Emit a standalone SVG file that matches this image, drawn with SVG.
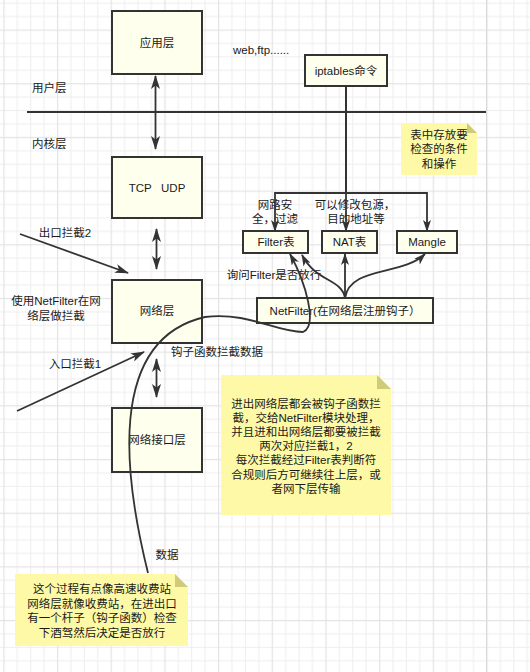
<svg xmlns="http://www.w3.org/2000/svg" width="530" height="672" viewBox="0 0 530 672">
  <defs>
    <!-- background grid: 4 minor cells per major cell -->
    <pattern id="grid" x="3.3" y="29.5" width="53.68" height="53.68" patternUnits="userSpaceOnUse">
      <rect x="0" y="0" width="53.68" height="53.68" fill="#ffffff"/>
      <g fill="#eeeeee">
        <rect x="13.42" y="0" width="1" height="53.68"/>
        <rect x="26.84" y="0" width="1" height="53.68"/>
        <rect x="40.26" y="0" width="1" height="53.68"/>
        <rect x="0" y="13.42" width="53.68" height="1"/>
        <rect x="0" y="26.84" width="53.68" height="1"/>
        <rect x="0" y="40.26" width="53.68" height="1"/>
      </g>
      <g fill="#e4e4e4">
        <rect x="0" y="0" width="1.2" height="53.68"/>
        <rect x="0" y="0" width="53.68" height="1.2"/>
      </g>
    </pattern>
    <marker id="arrow" viewBox="0 0 14 9" refX="13" refY="4.5" markerWidth="14" markerHeight="9" markerUnits="userSpaceOnUse" orient="auto-start-reverse">
      <path d="M0,0 L14,4.5 L0,9 L3.5,4.5 Z" fill="#333333"/>
    </marker>
    <marker id="arrow-s" viewBox="0 0 12 8" refX="11" refY="4" markerWidth="12" markerHeight="8" markerUnits="userSpaceOnUse" orient="auto">
      <path d="M0,0 L12,4 L0,8 L3,4 Z" fill="#333333"/>
    </marker>
  </defs>
  <style>
    text { font-family: "Liberation Sans", "Noto Sans CJK SC", sans-serif; font-size: 11.5px; fill: #1a1a1a; }
    .c { text-anchor: middle; dominant-baseline: central; }
    .l { dominant-baseline: central; }
    .box { fill: #ffffee; stroke: #333333; stroke-width: 2; }
    .note { fill: #fdf9a6; }
    .fold { fill: #cfcb78; }
    .edge { fill: none; stroke: #333333; stroke-width: 1.8; }
    .sep { stroke: #333333; stroke-width: 2.2; }
  </style>

  <rect x="0" y="0" width="530" height="672" fill="url(#grid)"/>
  <rect x="486.2" y="0" width="0.8" height="672" fill="#d4d4d4"/>

  <!-- user space / kernel space separator -->
  <line class="sep" x1="27" y1="112" x2="486" y2="112"/>

  <!-- free text labels -->
  <g id="labels">
    <text class="l" x="233" y="50">web,ftp......</text>
    <text class="l" x="32" y="88">用户层</text>
    <text class="l" x="32" y="144">内核层</text>
    <text class="c" x="65" y="233">出口拦截2</text>
    <text class="c" x="56" y="301">使用NetFilter在网</text>
    <text class="c" x="56" y="315.5">络层做拦截</text>
    <text class="c" x="75" y="364">入口拦截1</text>
    <text class="c" x="217" y="352">钩子函数拦截数据</text>
    <text class="c" x="167" y="555">数据</text>
    <text class="c" x="275" y="205">网路安</text>
    <text class="c" x="275" y="219">全，过滤</text>
    <text class="c" x="355" y="205">可以修改包源，</text>
    <text class="c" x="356" y="219">目的地址等</text>
    <text class="c" x="274" y="275">询问Filter是否放行</text>
  </g>

  <!-- protocol stack -->
  <g id="app-layer">
    <rect class="box" x="112" y="11" width="90" height="63"/>
    <text class="c" x="157" y="43">应用层</text>
  </g>
  <g id="tcp-udp">
    <rect class="box" x="112" y="157" width="90" height="61"/>
    <text class="c" x="157" y="188" xml:space="preserve">TCP   UDP</text>
  </g>
  <g id="network-layer">
    <rect class="box" x="112" y="280" width="90" height="63"/>
    <text class="c" x="157" y="311">网络层</text>
  </g>
  <g id="link-layer">
    <rect class="box" x="112" y="408" width="90" height="64"/>
    <text class="c" x="157" y="440">网络接口层</text>
  </g>

  <!-- iptables side -->
  <g id="iptables">
    <rect class="box" x="305" y="55" width="82" height="31"/>
    <text class="c" x="346" y="71">iptables命令</text>
  </g>
  <g id="filter-table">
    <rect class="box" x="243" y="231" width="65" height="22"/>
    <text class="c" x="276" y="242">Filter表</text>
  </g>
  <g id="nat-table">
    <rect class="box" x="322" y="231" width="55" height="22"/>
    <text class="c" x="349.5" y="242">NAT表</text>
  </g>
  <g id="mangle-table">
    <rect class="box" x="397" y="231" width="60" height="22"/>
    <text class="c" x="427" y="242">Mangle</text>
  </g>
  <g id="netfilter">
    <rect class="box" x="257" y="298" width="176" height="25"/>
    <text class="c" x="345" y="311">NetFilter(在网络层注册钩子）</text>
  </g>

  <!-- sticky notes -->
  <g id="note-tables">
    <path class="note" d="M401,123 H467 L477,133 V175 H401 Z"/>
    <path class="fold" d="M467,123 L477,133 H467 Z"/>
    <text class="c" x="439" y="135">表中存放要</text>
    <text class="c" x="439" y="149">检查的条件</text>
    <text class="c" x="439" y="163.5">和操作</text>
  </g>
  <g id="note-hooks">
    <path class="note" d="M221,375 H377 L391,389 V515 H221 Z"/>
    <path class="fold" d="M377,375 L391,389 H377 Z"/>
    <text class="c" x="306" y="403.5">进出网络层都会被钩子函数拦</text>
    <text class="c" x="306" y="417.7">截，交给NetFilter模块处理，</text>
    <text class="c" x="306" y="431.9">并且进和出网络层都要被拦截</text>
    <text class="c" x="306" y="446.1">两次对应拦截1，2</text>
    <text class="c" x="306" y="460.3">每次拦截经过Filter表判断符</text>
    <text class="c" x="306" y="474.5">合规则后方可继续往上层，或</text>
    <text class="c" x="306" y="488.7">者网下层传输</text>
  </g>
  <g id="note-tollgate">
    <path class="note" d="M15,574 H175 L188,587 V646 H15 Z"/>
    <path class="fold" d="M175,574 L188,587 H175 Z"/>
    <text class="c" x="102" y="589">这个过程有点像高速收费站</text>
    <text class="c" x="102" y="603.5">网络层就像收费站，在进出口</text>
    <text class="c" x="102" y="618">有一个杆子（钩子函数）检查</text>
    <text class="c" x="102" y="632.5">下酒驾然后决定是否放行</text>
  </g>

  <!-- connectors -->
  <g id="connectors">
    <!-- stack double arrows -->
    <line class="edge" x1="155.5" y1="76" x2="155.5" y2="149" marker-start="url(#arrow)" marker-end="url(#arrow)"/>
    <line class="edge" x1="156.5" y1="229" x2="156.5" y2="269" marker-start="url(#arrow)" marker-end="url(#arrow)"/>
    <line class="edge" x1="156.5" y1="359" x2="156.5" y2="397" marker-start="url(#arrow)" marker-end="url(#arrow)"/>
    <!-- interception arrows -->
    <line class="edge" x1="20" y1="234" x2="128" y2="273" marker-end="url(#arrow)"/>
    <line class="edge" x1="17" y1="411" x2="144" y2="352" marker-end="url(#arrow)"/>
    <!-- iptables to tables -->
    <path class="edge" d="M346,86 V231" marker-end="url(#arrow-s)"/>
    <path class="edge" d="M346,86 V193 H275 V231" marker-end="url(#arrow-s)"/>
    <path class="edge" d="M346,86 V193 H427 V231" marker-end="url(#arrow-s)"/>
    <!-- netfilter to tables -->
    <path class="edge" d="M345,298 C342,279 316,282 302,255" marker-end="url(#arrow-s)"/>
    <path class="edge" d="M345,298 V254" marker-end="url(#arrow-s)"/>
    <path class="edge" d="M345,298 C350,266 402,276 425,254" marker-end="url(#arrow-s)"/>
    <!-- packet path -->
    <path class="edge" d="M148,573 C125,480 105,340 205,317 C250,312 275,332 303,332 C318,326 306,283 290,254" marker-end="url(#arrow-s)"/>
  </g>
</svg>
